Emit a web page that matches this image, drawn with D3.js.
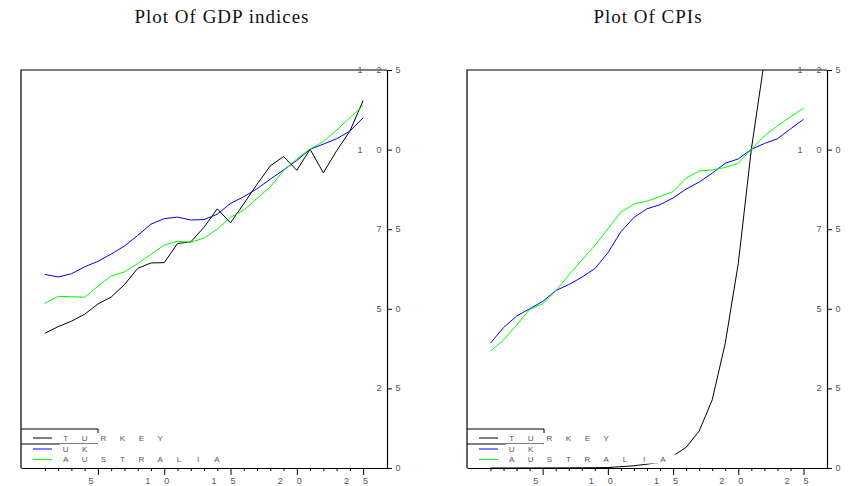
<!DOCTYPE html>
<html>
<head>
<meta charset="utf-8">
<script src="https://cdn.jsdelivr.net/npm/d3@7/dist/d3.min.js"></script>
<style>
    body { margin: 0; background: #fff; }
    svg { display: block; }
    .title { font-family: "Liberation Serif", serif; font-size: 19px; letter-spacing: 1px; fill: #111; }
    .tick-char { font-family: "Liberation Sans Narrow", "Liberation Sans", sans-serif; font-size: 9px; fill: #555; }
    .legend-char { font-family: "Liberation Sans Narrow", "Liberation Sans", sans-serif; font-size: 8px; fill: #555; }
</style>
</head>
<body>
<div id="chart"></div>
<script>
/* * * * * * * * * * * * * *
* * * * * * * * * * * * * */

const periods = [1, 2, 3, 4, 5, 6, 7, 8, 9, 10, 11, 12, 13, 14, 15, 16, 17, 18, 19, 20, 21, 22, 23, 24, 25];

const gdpTurkey = [42.3, 44.4, 46.1, 48.3, 51.5, 53.7, 57.6, 62.7, 64.4, 64.5, 70.5, 71.0, 75.6, 81.4, 77.0,
    83.0, 89.1, 94.9, 97.8, 93.5, 100.1, 92.7, 99.6, 105.8, 115.4];
const gdpUK = [60.8, 60.0, 61.0, 63.2, 64.9, 67.2, 69.7, 73.0, 76.6, 78.3, 78.8, 77.9, 78.0, 79.7, 83.1,
    85.2, 87.7, 90.7, 93.6, 96.6, 100.1, 101.7, 103.4, 105.8, 110.0];
const gdpAustralia = [51.7, 53.9, 53.8, 53.6, 57.1, 60.3, 61.6, 64.2, 67.1, 70.0, 71.2, 70.9, 72.2, 75.0, 78.7,
    81.0, 84.7, 88.3, 93.4, 97.1, 100.2, 102.5, 106.1, 110.0, 113.8];

// Turkish CPI leaves the plot after period 22, so only the visible part is kept
const cpiTurkey = [0.01, 0.01, 0.02, 0.02, 0.03, 0.04, 0.05, 0.07, 0.1, 0.15, 0.4, 0.7, 1.2, 1.8, 3.8,
    6.5, 11.6, 21.4, 39.2, 64.3, 100.1, 128];
const cpiUK = [39.2, 44.1, 47.7, 50.0, 52.3, 55.7, 57.6, 59.9, 62.6, 67.6, 74.2, 78.7, 81.4, 82.7, 84.8,
    87.6, 89.8, 92.6, 95.7, 97.1, 100.1, 101.9, 103.4, 106.5, 109.5];
const cpiAustralia = [36.7, 40.2, 44.9, 49.8, 51.6, 55.6, 60.6, 65.3, 69.9, 75.1, 80.4, 82.9, 83.8, 85.3, 86.8,
    91.0, 93.3, 93.6, 94.4, 95.7, 100.1, 104.3, 107.4, 110.3, 113.0];

const seriesNames = ["TURKEY", "UK", "AUSTRALIA"];
const seriesColors = ["#000000", "#0000ff", "#00ff00"];
const xMajorTicks = [5, 10, 15, 20, 25];
const yTicks = [0, 25, 50, 75, 100, 125];

/* * * * * * * * * * * * * *
*         LinePanel        *
* * * * * * * * * * * * * */

class LinePanel {

    constructor(svg, id, config) {
        this.svg = svg;
        this.id = id;
        this.config = config;
        this.initVis();
    }

    initVis() {
        let vis = this;
        let c = vis.config;

        vis.top = 70;
        vis.bottom = 468;

        vis.x = d3.scaleLinear().domain([-0.8, 26.8]).range([c.left, c.right]);
        vis.y = d3.scaleLinear().domain([0, 125]).range([vis.bottom, vis.top]);

        vis.g = vis.svg.append("g");

        // title
        vis.g.append("text")
            .attr("class", "title")
            .attr("x", c.titleX)
            .attr("y", 23)
            .attr("text-anchor", "middle")
            .text(c.title);

        // clip for the plotting area
        vis.svg.append("clipPath")
            .attr("id", `clip-${vis.id}`)
            .append("rect")
            .attr("x", c.left)
            .attr("y", vis.top)
            .attr("width", c.right - c.left)
            .attr("height", vis.bottom - vis.top);

        vis.lineGroup = vis.g.append("g").attr("clip-path", `url(#clip-${vis.id})`);

        vis.line = d3.line()
            .x((d, i) => vis.x(periods[i]))
            .y(d => vis.y(d));

        vis.updateVis();
    }

    updateVis() {
        let vis = this;
        let c = vis.config;

        // data lines
        vis.lineGroup.selectAll("path")
            .data(c.series)
            .enter().append("path")
            .attr("d", d => vis.line(d))
            .attr("fill", "none")
            .attr("stroke", (d, i) => seriesColors[i])
            .attr("stroke-width", 1);

        // frame: top and left edges
        vis.g.append("path")
            .attr("d", `M${c.left},${vis.bottom}V${vis.top}H${c.right}`)
            .attr("fill", "none")
            .attr("stroke", "#000")
            .attr("stroke-width", 1.2);

        // bottom axis, minor ticks every period
        let xAxis = d3.axisBottom(vis.x)
            .tickValues(periods)
            .tickSize(3)
            .tickSizeOuter(0)
            .tickFormat("");

        let xg = vis.g.append("g")
            .attr("transform", `translate(0,${vis.bottom})`)
            .call(xAxis);
        xg.select(".domain").attr("stroke-width", 1.2);
        xg.selectAll(".tick line")
            .filter(d => xMajorTicks.includes(d))
            .attr("y2", 7);

        // spaced out tick labels
        xMajorTicks.forEach(v => {
            let chars = String(v).split("");
            let n = chars.length;
            vis.g.selectAll(null)
                .data(chars)
                .enter().append("text")
                .attr("class", "tick-char")
                .attr("x", (ch, i) => vis.x(v) - 7 + (i - (n - 1) / 2) * 19)
                .attr("y", 481)
                .attr("text-anchor", "middle")
                .attr("dominant-baseline", "central")
                .text(ch => ch);
        });

        // right axis
        let yAxis = d3.axisRight(vis.y)
            .tickValues(yTicks)
            .tickSize(5)
            .tickSizeOuter(0)
            .tickFormat("");

        let yg = vis.g.append("g")
            .attr("transform", `translate(${c.right},0)`)
            .call(yAxis);
        yg.select(".domain").attr("stroke-width", 1.2);

        yTicks.forEach(v => {
            let chars = String(v).split("");
            let n = chars.length;
            vis.g.selectAll(null)
                .data(chars)
                .enter().append("text")
                .attr("class", "tick-char")
                .attr("x", (ch, i) => c.right + 11 - (n - 1 - i) * 19)
                .attr("y", vis.y(v))
                .attr("text-anchor", "middle")
                .attr("dominant-baseline", "central")
                .text(ch => ch);
        });

        // legend
        let rows = [438, 449, 459.5];
        let lx = c.left;

        vis.g.append("path")
            .attr("d", `M${lx},429H${lx + 77}V434M${lx},444H${lx + 77}`)
            .attr("fill", "none")
            .attr("stroke", "#000")
            .attr("stroke-width", 1);

        seriesNames.forEach((name, k) => {
            let chars = name.split("");
            let first = lx + 44.7;

            // the label cells blank out whatever is behind them
            vis.g.append("rect")
                .attr("x", first - 6)
                .attr("y", rows[k] - 5)
                .attr("width", (chars.length - 1) * 18.9 + 19)
                .attr("height", 9)
                .attr("fill", "#fff");

            vis.g.append("line")
                .attr("x1", lx + 12)
                .attr("x2", lx + 31)
                .attr("y1", rows[k])
                .attr("y2", rows[k])
                .attr("stroke", seriesColors[k])
                .attr("stroke-width", 1);

            vis.g.selectAll(null)
                .data(chars)
                .enter().append("text")
                .attr("class", "legend-char")
                .attr("x", (ch, i) => first + i * 18.9)
                .attr("y", rows[k])
                .attr("text-anchor", "middle")
                .attr("dominant-baseline", "central")
                .text(ch => ch);
        });
    }
}

let svg = d3.select("#chart").append("svg")
    .attr("width", 850)
    .attr("height", 486);

new LinePanel(svg, "gdp", {
    title: "Plot Of GDP indices",
    titleX: 222,
    left: 21,
    right: 387,
    series: [gdpTurkey, gdpUK, gdpAustralia]
});

new LinePanel(svg, "cpi", {
    title: "Plot Of CPIs",
    titleX: 648,
    left: 467,
    right: 827,
    series: [cpiTurkey, cpiUK, cpiAustralia]
});
</script>
</body>
</html>
